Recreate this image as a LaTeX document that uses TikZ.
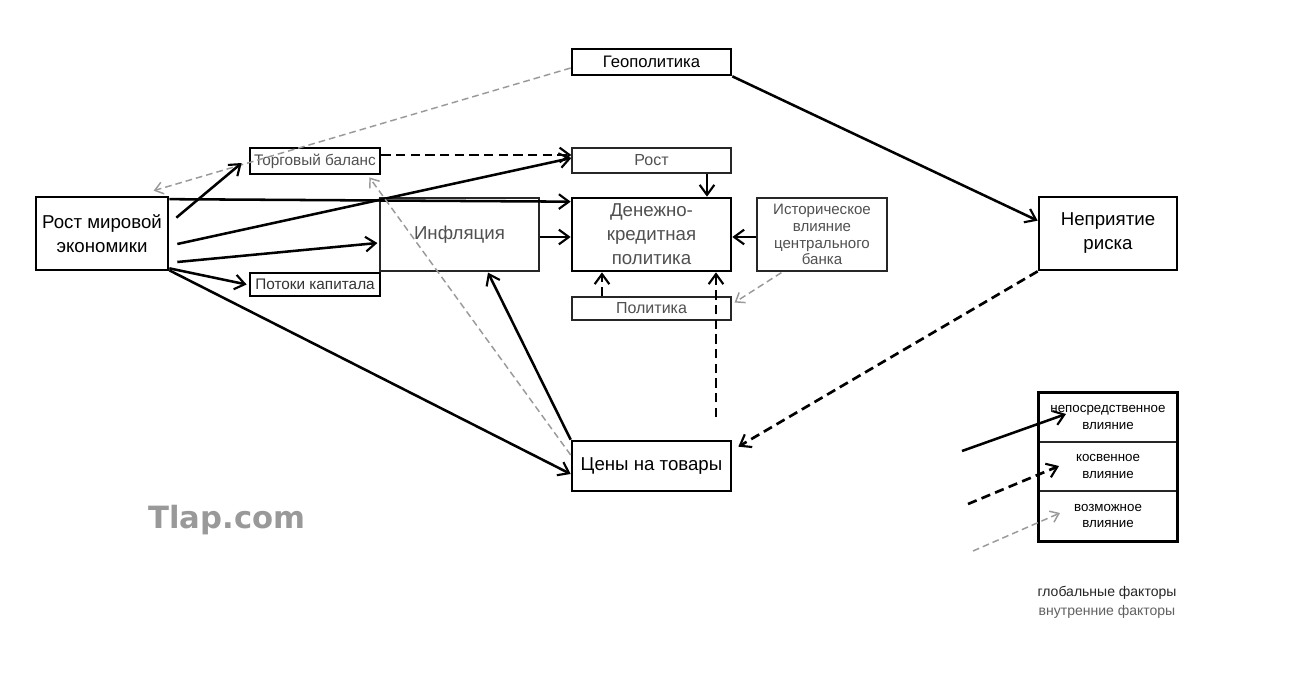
\documentclass[tikz,border=0pt]{standalone}
\usepackage{fontspec}
\setmainfont{Liberation Sans}
\newfontfamily\logofont{DejaVu Sans}
\usetikzlibrary{arrows.meta,calc}
\definecolor{txtgray}{HTML}{505050}
\definecolor{lngray}{HTML}{9A9A9A}
\begin{document}
\begin{tikzpicture}[x=0.75pt,y=-0.75pt,
  sz/.style 2 args={minimum width=#1*0.75pt, minimum height=#2*0.75pt},
  thickbox/.style={draw, line width=2pt, inner sep=1pt, align=center},
  thinbox/.style={draw=black!85, line width=0.9pt, inner sep=1pt, align=center},
  big/.style={font=\fontsize{14}{18}\selectfont},
  mid/.style={font=\fontsize{11.5}{14}\selectfont},
  small/.style={font=\fontsize{12}{14}\selectfont},
  tiny/.style={font=\fontsize{10}{12.5}\selectfont},
  tip/.style={-{Straight Barb[length=7.5pt,width=11pt,line width=1.6pt]}},
  direct/.style={tip, line width=1.9pt, black},
  indirect/.style={tip, line width=2pt, black, dash pattern=on 7pt off 4pt},
  possible/.style={-{Straight Barb[length=6pt,width=9pt,line width=1.1pt]}, line width=1.1pt, lngray, dash pattern=on 5pt off 3pt}]
\useasboundingbox (0,0) rectangle (1290,682);
\fill[white] (0,0) rectangle (1290,682);

% factor boxes
\node[thickbox, big, sz={132}{73}] (world) at (102,233.5) {Рост мировой\\экономики};
\node[thickbox, mid, sz={130}{26}, text=txtgray] (trade) at (315,161) {Торговый баланс};
\node[thickbox, mid, sz={130}{23}, text=black!80] (flows) at (315,284.5) {Потоки капитала};
\node[thinbox, big, sz={159}{73}, text=txtgray] (infl) at (459.5,234.5) {Инфляция};
\node[thickbox, font=\fontsize{12.5}{14}\selectfont, sz={159}{26}] (geo) at (651.5,62) {Геополитика};
\node[thinbox, small, sz={159}{25}, text=txtgray] (rost) at (651.5,160.5) {Рост};
\node[thickbox, big, sz={159}{73}, text=txtgray] (mp) at (651.5,234.5) {Денежно-\\кредитная\\политика};
\node[thinbox, text=txtgray, sz={130}{73}, font=\fontsize{11.3}{12.6}\selectfont] (hist) at (822,234.5) {Историческое\\влияние\\центрального\\банка};
\node[thinbox, small, sz={159}{23}, text=txtgray] (pol) at (651.5,308.5) {Политика};
\node[thickbox, big, sz={159}{50}] (prices) at (651.5,466) {Цены на товары};
\node[thickbox, big, sz={138}{73}] (risk) at (1108,233.5) {Неприятие\\риска};

% legend
\node[thinbox, tiny, sz={138}{49}] (l1) at (1108,417.5) {непосредственное\\влияние};
\node[thinbox, tiny, sz={138}{49}] (l2) at (1108,466.5) {косвенное\\влияние};
\node[thinbox, tiny, sz={138}{50}] (l3) at (1108,516) {возможное\\влияние};
\draw[line width=2pt] (l1.north west) rectangle (l3.south east);
\coordinate (s1) at (962,451);
\coordinate (e1) at (1066,414);
\coordinate (s2) at (968,504);
\coordinate (e2) at (1059,466);
\coordinate (s3) at (973,551);
\coordinate (e3) at (1060,513);
\draw[direct] (s1) -- (e1);
\draw[indirect] (s2) -- (e2);
\draw[possible] (s3) -- (e3);

\node[font=\fontsize{10.5}{12.5}\selectfont, text=black!85] (glob) at (1107,593) {глобальные факторы};
\node[font=\fontsize{10.5}{12.5}\selectfont, text=txtgray!90] (dom) at (1107,612) {внутренние факторы};
\node[font=\logofont\bfseries\fontsize{23}{26}\selectfont, text=black!40] (logo) at (227,520) {Tlap.com};

% connectors
\draw[possible] ($(geo.west)+(0,6)$) -- ($(world.north west)+(119,-5)$);
\draw[direct] (geo.south east) -- ($(risk.north west)+(0,25)$);
\draw[direct] ($(world.north east)+(7,22)$) -- ($(trade.west)+(-7,2)$);
\draw[indirect] ($(trade.east)+(0,-6)$) -- ($(rost.west)+(0,-5.5)$);
\draw[direct] ($(world.east)+(8,10.5)$) -- ($(rost.west)+(0,-2.5)$);
\draw[direct] ($(world.north east)+(0,3.5)$) -- ($(mp.north west)+(0,5)$);
\draw[direct] ($(world.east)+(8,28.5)$) -- ($(infl.west)+(-2,8.5)$);
\draw[direct] ($(world.south east)+(0,-3)$) -- ($(flows.west)+(-2,0)$);
\draw[direct] ($(world.south east)+(0,-1)$) -- ($(prices.west)+(0,8)$);
\draw[direct] ($(infl.east)+(0,2.5)$) -- ($(mp.west)+(0,2.5)$);
\draw[direct] ($(rost.south)+(55.5,0)$) -- ($(mp.north)+(55.5,0)$);
\draw[direct] ($(hist.west)+(0,2.5)$) -- ($(mp.east)+(0,2.5)$);
\draw[indirect] ($(pol.north)+(-49.5,0)$) -- ($(mp.south)+(-49.5,0)$);
\coordinate (loose) at (716,417);
\draw[indirect] (loose) -- ($(mp.south)+(64.5,0)$);
\draw[possible] ($(hist.south west)+(25,1)$) -- ($(pol.east)+(3,-6)$);
\draw[indirect] (risk.south west) -- ($(prices.north east)+(6,7)$);
\draw[direct] (prices.north west) -- ($(infl.south)+(28.5,1)$);
\draw[possible] ($(prices.west)+(0,-11)$) -- ($(trade.south east)+(-12,2)$);
\end{tikzpicture}
\end{document}
